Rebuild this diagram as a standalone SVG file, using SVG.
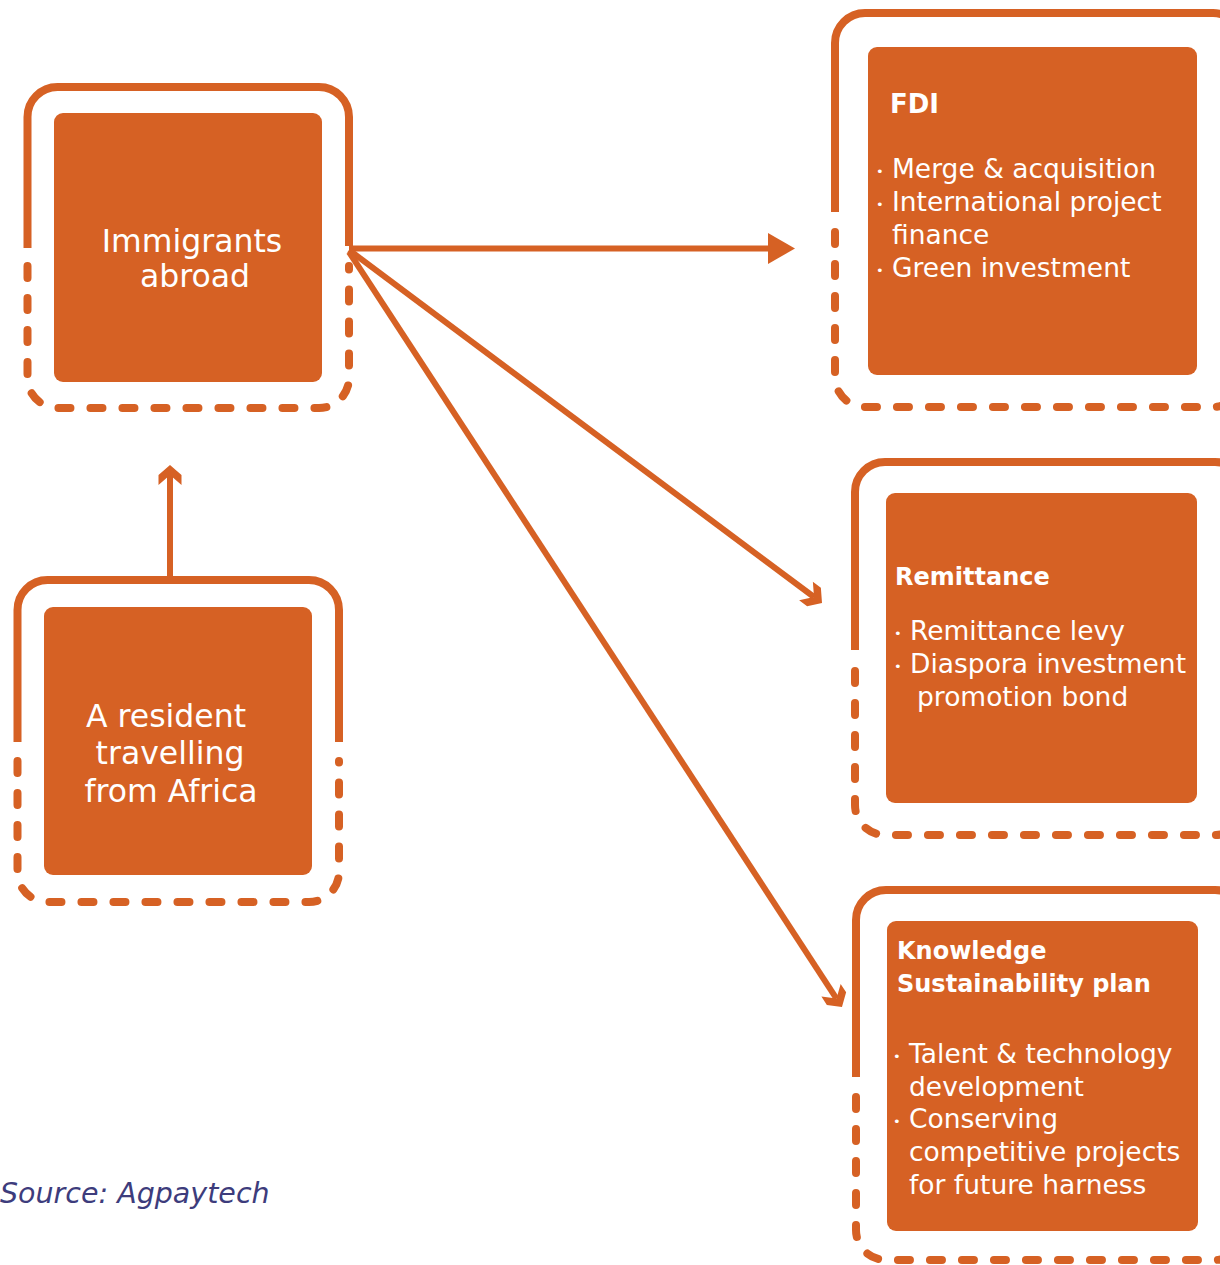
<svg xmlns="http://www.w3.org/2000/svg" width="1220" height="1265" viewBox="0 0 1220 1265">
<style>
.frame{fill:none;stroke:#D66124;stroke-width:8;stroke-linejoin:round}
.dash{stroke-dasharray:12 20;stroke-linecap:round}
.box{fill:#D66124}
.t{font-family:"DejaVu Sans","Liberation Sans",sans-serif;fill:#ffffff}
.c{font-size:31.5px;text-anchor:middle}
.h{font-size:24px;font-weight:bold}
.b{font-size:26.5px}
.dot{font-size:13px}
.con{fill:none;stroke:#D66124;stroke-width:6}
.src{font-family:"DejaVu Sans","Liberation Sans",sans-serif;font-style:italic;font-size:28.5px;fill:#3D3C7C}
</style>
<defs>
<marker id="chev" markerUnits="userSpaceOnUse" viewBox="-21 -12 22 24" markerWidth="22" markerHeight="24" refX="-10" refY="0" orient="auto">
<path d="M0,0 L-10,-11.5 L-20,-11.5 L-10,0 L-20,11.5 L-10,11.5 Z" fill="#D66124"/>
</marker>
<marker id="tri" markerUnits="userSpaceOnUse" viewBox="-28 -16 29 32" markerWidth="29" markerHeight="32" refX="-25" refY="0" orient="auto">
<path d="M0,0 L-27,-15.5 L-27,15.5 Z" fill="#D66124"/>
</marker>
</defs>
<rect width="1220" height="1265" fill="#ffffff"/>

<g id="connectors">
<path class="con" d="M170,576 V475" marker-end="url(#chev)"/>
<path class="con" d="M349,248.5 H770" marker-end="url(#tri)"/>
<path class="con" d="M349,250 L814,597" marker-end="url(#chev)"/>
<path class="con" d="M349,252 L836.5,998.6" marker-end="url(#chev)"/>
</g>

<g id="immigrants">
<path class="frame" d="M27.5,248 V117 A30,30 0 0 1 57.5,87 H319 A30,30 0 0 1 349,117 V246"/>
<path class="frame dash" d="M27.5,266 V378 A30,30 0 0 0 57.5,408 H319 A30,30 0 0 0 349,378 V266"/>
<rect class="box" x="54" y="113" width="268" height="269" rx="9"/>
<text class="t c" x="192" y="252">Immigrants</text>
<text class="t c" x="195" y="287">abroad</text>
</g>

<g id="resident">
<path class="frame" d="M17.5,742 V610 A30,30 0 0 1 47.5,580 H309 A30,30 0 0 1 339,610 V742"/>
<path class="frame dash" d="M17.5,761 V872 A30,30 0 0 0 47.5,902 H309 A30,30 0 0 0 339,872 V761"/>
<rect class="box" x="44" y="607" width="268" height="268" rx="9"/>
<text class="t c" x="166" y="727">A resident</text>
<text class="t c" x="170" y="764">travelling</text>
<text class="t c" x="171" y="802">from Africa</text>
</g>

<g id="fdi">
<path class="frame" d="M835,212 V43 A30,30 0 0 1 865,13 H1213 A30,30 0 0 1 1243,43 V212"/>
<path class="frame dash" d="M835,232 V377 A30,30 0 0 0 865,407 H1213 A30,30 0 0 0 1243,377 V232"/>
<rect class="box" x="868" y="47" width="329" height="328" rx="9"/>
<text class="t h" x="890" y="113" style="font-size:26px">FDI</text>
<text class="t b"><tspan class="dot" x="876" y="176">•</tspan><tspan x="892" y="178">Merge &amp; acquisition</tspan></text>
<text class="t b"><tspan class="dot" x="876" y="209">•</tspan><tspan x="892" y="211">International project</tspan></text>
<text class="t b" x="892" y="244">finance</text>
<text class="t b"><tspan class="dot" x="876" y="275">•</tspan><tspan x="892" y="277">Green investment</tspan></text>
</g>

<g id="remittance">
<path class="frame" d="M855,650 V492 A30,30 0 0 1 885,462 H1215 A30,30 0 0 1 1245,492 V650"/>
<path class="frame dash" d="M855,671 V805 A30,30 0 0 0 885,835 H1215 A30,30 0 0 0 1245,805 V671"/>
<rect class="box" x="886" y="493" width="311" height="310" rx="9"/>
<text class="t h" x="895" y="585">Remittance</text>
<text class="t b"><tspan class="dot" x="894" y="638">•</tspan><tspan x="910" y="640">Remittance levy</tspan></text>
<text class="t b"><tspan class="dot" x="894" y="671">•</tspan><tspan x="910" y="673">Diaspora investment</tspan></text>
<text class="t b" x="917" y="706">promotion bond</text>
</g>

<g id="knowledge">
<path class="frame" d="M856,1077 V920 A30,30 0 0 1 886,890 H1215 A30,30 0 0 1 1245,920 V1077"/>
<path class="frame dash" d="M856,1097 V1230 A30,30 0 0 0 886,1260 H1215 A30,30 0 0 0 1245,1230 V1097"/>
<rect class="box" x="887" y="921" width="311" height="310" rx="9"/>
<text class="t h" x="897" y="959">Knowledge</text>
<text class="t h" x="897" y="992">Sustainability plan</text>
<text class="t b"><tspan class="dot" x="893" y="1061">•</tspan><tspan x="909" y="1063">Talent &amp; technology</tspan></text>
<text class="t b" x="909" y="1096">development</text>
<text class="t b"><tspan class="dot" x="893" y="1126">•</tspan><tspan x="909" y="1128">Conserving</tspan></text>
<text class="t b" x="909" y="1161">competitive projects</text>
<text class="t b" x="909" y="1194">for future harness</text>
</g>

<text class="src" x="0" y="1203">Source: Agpaytech</text>
</svg>
